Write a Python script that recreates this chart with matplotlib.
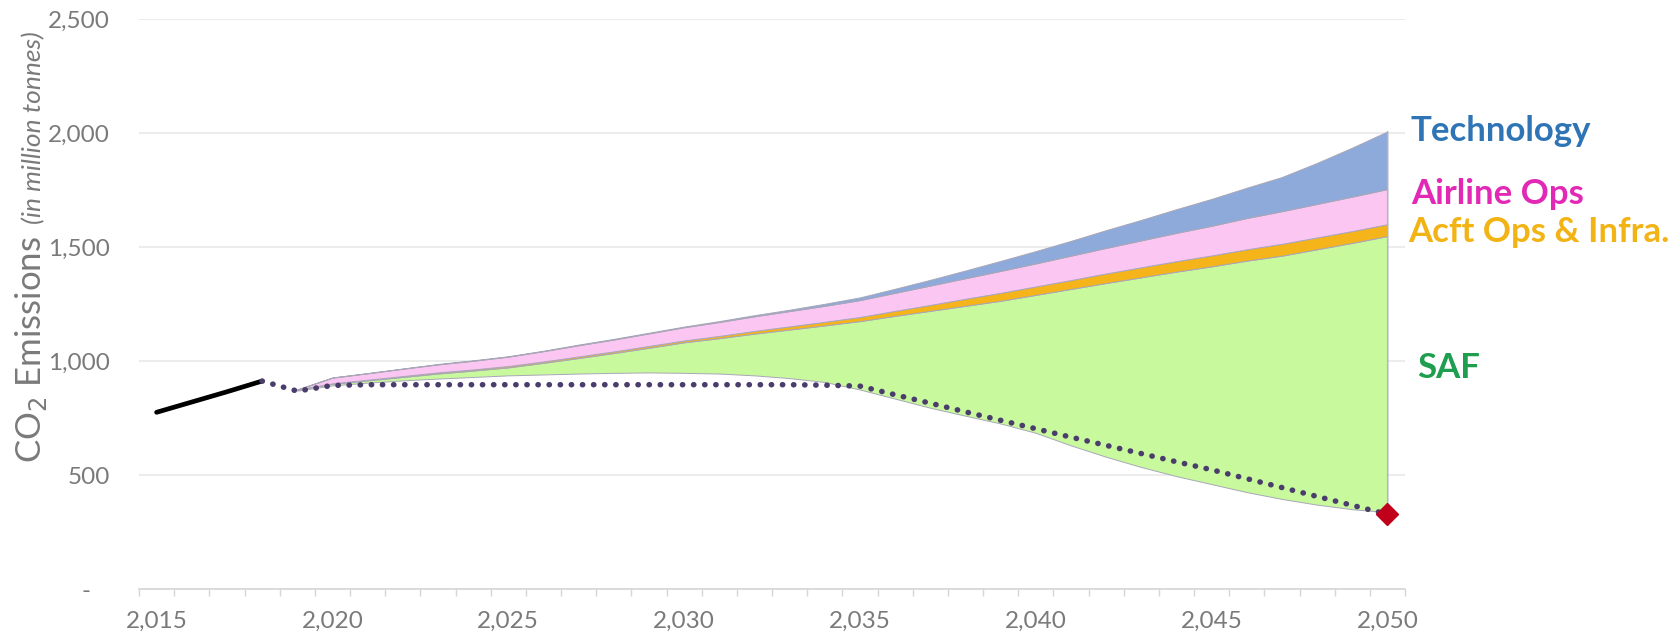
import numpy as np
import matplotlib.pyplot as plt
from matplotlib.ticker import FixedLocator, FuncFormatter

plt.rcParams['font.family'] = ['Lato', 'DejaVu Sans']

# historical emissions (solid black)
hist_years = [2015, 2016, 2017, 2018]
hist_co2 = [775, 820, 865, 912]

# net emissions path (dotted)
net_years = list(range(2018, 2051))
net_co2 = [912, 868, 893, 896, 896, 896, 896, 896, 896, 896, 896, 896, 896, 896,
           896, 896, 894, 890, 852, 815, 777, 740, 703, 666, 630, 594, 558, 523,
           484, 445, 406, 367, 328]

# stacked wedges
years = list(range(2019, 2051))
base = [870, 893, 905, 915, 923, 930, 937, 941, 945, 948, 950, 948, 945, 937,
        925, 908, 875, 835, 795, 760, 726, 685, 630, 580, 535, 495, 460, 425,
        395, 370, 350, 337]
saf = [5, 7, 10, 15, 22, 28, 35, 51, 68, 87, 108, 134, 155, 183, 213, 248, 300,
       363, 425, 482, 538, 605, 686, 762, 832, 897, 955, 1015, 1067, 1120, 1168,
       1211]
infra = [0, 2, 3, 4, 5, 5, 6, 6, 7, 7, 8, 8, 10, 12, 14, 16, 18, 22, 26, 31, 35,
         37, 39, 42, 44, 46, 48, 50, 52, 52, 52, 52]
airline = [0, 25, 28, 32, 35, 38, 41, 45, 49, 52, 55, 58, 61, 64, 67, 70, 74, 79,
           85, 90, 96, 101, 107, 112, 118, 124, 130, 137, 143, 147, 151, 154]
tech = [0, 1, 1, 1, 2, 2, 2, 2, 3, 3, 3, 3, 4, 5, 6, 9, 12, 18, 25, 34, 44, 54,
        65, 78, 90, 104, 118, 133, 150, 180, 215, 253]

labels = ['SAF', 'Acft Ops & Infra.', 'Airline Ops', 'Technology']
fill_colors = ['#c9f99d', '#f4b41a', '#fcc6f3', '#8eaadb']
text_colors = ['#1e9e4e', '#f2b315', '#e229b6', '#2f74b5']
label_pos = [(1417, 368), (1408, 232), (1411, 194), (1411, 131)]

W, H = 1681, 635
fig = plt.figure(figsize=(W / 100, H / 100), dpi=100)
ax = fig.add_axes([139 / W, 46 / H, (1405 - 139) / W, (589 - 19) / H])

x = np.array(years)
lower = np.array(base, dtype=float)
for vals, col in zip([saf, infra, airline, tech], fill_colors):
    upper = lower + np.array(vals)
    ax.fill_between(x, lower, upper, facecolor=col, edgecolor='#a9a7b8',
                    linewidth=0.7, zorder=2)
    lower = upper
ax.plot([2050, 2050], [base[-1], lower[-1]], color='#b5b5b5', lw=0.8, zorder=2)

ax.plot(hist_years, hist_co2, color='black', lw=3.4, solid_capstyle='round', zorder=4)
ax.plot(net_years, net_co2, color='#4b3d6b', lw=4.0, linestyle=(0, (0.05, 1.95)),
        dash_capstyle='round', zorder=4)
ax.plot([2050], [net_co2[-1]], marker='D', markersize=11, color='#c0001a',
        markeredgecolor='#c0001a', zorder=5)

ax.set_xlim(2014.5, 2050.5)
ax.set_ylim(0, 2500)
ax.set_yticks(range(0, 2501, 500))
ax.yaxis.set_major_formatter(FuncFormatter(lambda v, p: '-   ' if v == 0 else f'{int(v):,}'))
ax.set_xticks(range(2015, 2051, 5))
ax.xaxis.set_major_formatter(FuncFormatter(lambda v, p: f'{int(v):,}'))
ax.xaxis.set_minor_locator(FixedLocator(np.arange(2014.5, 2051, 1)))
ax.tick_params(axis='x', which='major', length=0, pad=16, labelsize=17.5, labelcolor='#7a7a7a')
ax.tick_params(axis='x', which='minor', length=5, width=1, color='#d6d6d6', direction='out')
ax.tick_params(axis='y', length=0, pad=21, labelsize=17.5, labelcolor='#7a7a7a')
ax.grid(axis='y', color='#e9e9e9', lw=1.2, zorder=0)
ax.set_axisbelow(True)
for s in ['top', 'right', 'left']:
    ax.spines[s].set_visible(False)
ax.spines['bottom'].set_color('#d6d6d6')
ax.spines['bottom'].set_linewidth(1.2)

# y-axis title in two parts
fig.text(41 / W, 1 - 463 / H, 'CO$_2$ Emissions', rotation=90, rotation_mode='anchor',
         ha='left', va='baseline', fontsize=25, color='#7a7a7a')
fig.text(41 / W, 1 - 224 / H, '(in million tonnes)', rotation=90, rotation_mode='anchor',
         ha='left', va='baseline', fontsize=19, style='italic', color='#7a7a7a')

for lab, col, (px, py) in zip(labels, text_colors, label_pos):
    fig.text(px / W, 1 - py / H, lab, ha='left', va='center', fontsize=25,
             fontweight='bold', color=col)

fig.savefig('out.png', dpi=100)
